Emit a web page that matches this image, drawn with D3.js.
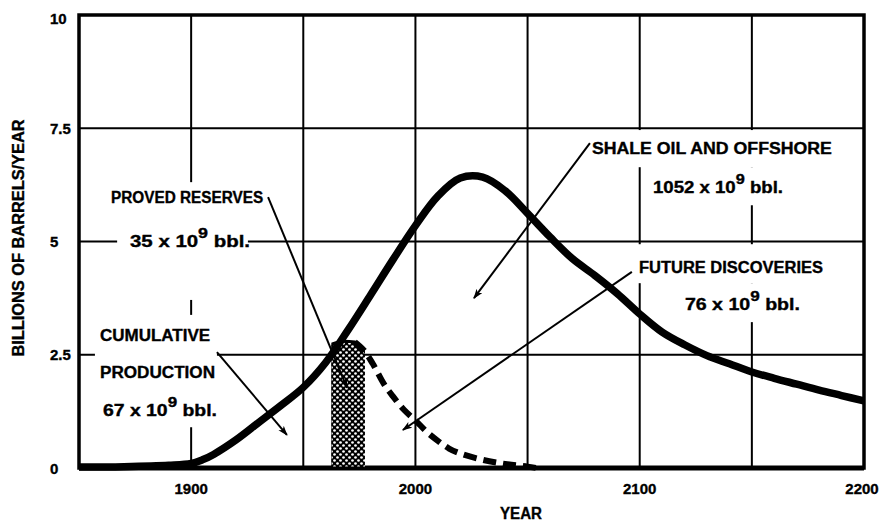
<!DOCTYPE html>
<html><head><meta charset="utf-8">
<script src="https://cdn.jsdelivr.net/npm/d3@7"></script>
<style>body{margin:0;background:#fff}svg{display:block}text{font-family:"Liberation Sans",Arial,sans-serif;font-weight:700;fill:#000;stroke:#000;stroke-width:0.35px}</style>
</head><body><svg id="c" width="883" height="522"></svg>
<script>
// ---- data ----
const years = [1850,1870,1890,1900,1905,1910,1920,1930,1940,1950,1960,1970,1980,1990,2000,2010,2020,2030,2040,2050,2060,2070,2080,2090,2100,2110,2120,2130,2140,2150,2160,2170,2180,2190,2200];
const totalProduction = [0.02,0.03,0.06,0.1,0.18,0.3,0.62,1.0,1.38,1.78,2.33,3.05,3.82,4.6,5.35,6.0,6.4,6.42,6.12,5.62,5.1,4.62,4.25,3.85,3.4,3.0,2.72,2.48,2.3,2.12,1.98,1.85,1.72,1.6,1.48];
const reserveYears = [1962,1968,1973,1977,1981,1986,1990,1995,2000,2005,2010,2015,2020,2030,2040,2050,2054];
const reserveProduction = [2.72,2.8,2.78,2.6,2.3,1.85,1.58,1.28,1.05,0.8,0.6,0.43,0.32,0.18,0.09,0.03,0.0];
const provedSpan = [1962.5, 1977.5];
const xTickYears = [1900,2000,2100,2200];
const xGridYears = [1900,1950,2000,2050,2100,2150];
const yTicks = [0,2.5,5,7.5,10];
const yTickLabels = ["0","2.5","5","7.5","10"];
const yGrid = [2.5,5,7.5];

// annotation boxes (data coords) that erase gridlines behind labels
const eraseBoxes = [
  [1867,1925.3,6.31,3.71],[1857.1,1911.5,3.38,0.9],
  [2075.6,2189.3,7.46,6.64],[2102.3,2167,6.64,5.8],
  [2095.6,2187,4.94,4.08],[2115.7,2173.7,4.08,3.22]
];
const arrows = [
  [1934.3,5.98,1969.5,1.77],
  [1911.5,2.56,1942.7,0.73],
  [2096.5,4.33,1994.4,0.84],
  [2077.8,7.17,2026.1,3.75]
];
const labels = [
  {t:"PROVED RESERVES", x:1898.2, y:5.98, len:152},
  {t:"35 x 10", sup:"9", after:" bbl.", x:1899.5, y:5.01, len:120},
  {t:"CUMULATIVE", x:1883.9, y:2.94, len:110},
  {t:"PRODUCTION", x:1885, y:2.12, len:115},
  {t:"67 x 10", sup:"9", after:" bbl.", x:1886.1, y:1.28, len:114},
  {t:"SHALE OIL AND OFFSHORE", x:2132.2, y:7.06, len:240},
  {t:"1052 x 10", sup:"9", after:" bbl.", x:2134.9, y:6.2, len:130},
  {t:"FUTURE DISCOVERIES", x:2140.7, y:4.44, len:184},
  {t:"76 x 10", sup:"9", after:" bbl.", x:2145.8, y:3.62, len:115}
];

// ---- chart ----
const svg = d3.select("#c");
const x = d3.scaleLinear().domain([1850,2200]).range([79,864]);
const y = d3.scaleLinear().domain([0,10]).range([468,15]);

const defs = svg.append("defs");
const pat = defs.append("pattern").attr("id","dots").attr("patternUnits","userSpaceOnUse").attr("width",6).attr("height",6);
pat.append("rect").attr("width",6).attr("height",6).attr("fill","#000");
pat.append("circle").attr("cx",1.5).attr("cy",1.5).attr("r",1.35).attr("fill","#fff");
pat.append("circle").attr("cx",4.5).attr("cy",4.5).attr("r",1.35).attr("fill","#fff");
defs.append("marker").attr("id","ah").attr("viewBox","0 0 10 8").attr("refX",9).attr("refY",4)
  .attr("markerWidth",10).attr("markerHeight",8).attr("markerUnits","userSpaceOnUse").attr("orient","auto")
  .append("path").attr("d","M0,0.5 L10,4 L0,7.5 L2.5,4 z").attr("fill","#000");
defs.append("clipPath").attr("id","proved").append("rect")
  .attr("x",x(provedSpan[0])).attr("y",0).attr("width",x(provedSpan[1])-x(provedSpan[0])).attr("height",522);

// grid
svg.append("g").selectAll("line").data(xGridYears).join("line")
  .attr("x1",d=>x(d)).attr("x2",d=>x(d)).attr("y1",y(10)).attr("y2",y(0))
  .attr("stroke","#000").attr("stroke-width",2);
svg.append("g").selectAll("line").data(yGrid).join("line")
  .attr("x1",x(1850)).attr("x2",x(2200)).attr("y1",d=>y(d)).attr("y2",d=>y(d))
  .attr("stroke","#000").attr("stroke-width",2);
// erase boxes
svg.append("g").selectAll("rect").data(eraseBoxes).join("rect")
  .attr("x",d=>x(d[0])).attr("width",d=>x(d[1])-x(d[0]))
  .attr("y",d=>y(d[2])).attr("height",d=>y(d[3])-y(d[2])).attr("fill","#fff");

// frame
svg.append("rect").attr("x",x(1850)).attr("y",y(10)).attr("width",x(2200)-x(1850)).attr("height",y(0)-y(10))
  .attr("fill","none").attr("stroke","#000").attr("stroke-width",3.5);
svg.append("line").attr("x1",x(1850)).attr("x2",x(2200)).attr("y1",y(0)).attr("y2",y(0)).attr("stroke","#000").attr("stroke-width",5);

// proved reserves bar
const rp = reserveYears.map((d,i)=>[d,reserveProduction[i]]);
svg.append("path").datum(rp).attr("clip-path","url(#proved)")
  .attr("d",d3.area().x(d=>x(d[0])).y0(y(0)).y1(d=>y(d[1])).curve(d3.curveMonotoneX))
  .attr("fill","url(#dots)").attr("stroke","#000").attr("stroke-width",3);

// dashed curve
svg.append("path").datum(rp.filter(d=>d[0]>=1973))
  .attr("d",d3.line().x(d=>x(d[0])).y(d=>y(d[1])).curve(d3.curveCatmullRom.alpha(0.5)))
  .attr("fill","none").attr("stroke","#000").attr("stroke-width",6).attr("stroke-dasharray","13,7");

// main curve
const tp = years.map((d,i)=>[d,totalProduction[i]]);
svg.append("path").datum(tp)
  .attr("d",d3.line().x(d=>x(d[0])).y(d=>y(d[1])).curve(d3.curveCatmullRom.alpha(0.5)))
  .attr("fill","none").attr("stroke","#000").attr("stroke-width",7.5).attr("stroke-linejoin","round");

// arrows
svg.append("g").selectAll("line").data(arrows).join("line")
  .attr("x1",d=>x(d[0])).attr("y1",d=>y(d[1])).attr("x2",d=>x(d[2])).attr("y2",d=>y(d[3]))
  .attr("stroke","#000").attr("stroke-width",2).attr("marker-end","url(#ah)");

// labels
labels.forEach(l=>{
  const t = svg.append("text").attr("x",x(l.x)).attr("y",y(l.y)+6).attr("text-anchor","middle")
    .attr("font-size",16).attr("textLength",l.len).attr("lengthAdjust","spacingAndGlyphs");
  t.append("tspan").text(l.t);
  if(l.sup){
    t.append("tspan").attr("dy",-9).attr("font-size",14).text(l.sup);
    t.append("tspan").attr("dy",9).text(l.after);
  }
});

// ticks
svg.append("g").selectAll("text").data(yTicks).join("text")
  .attr("x",50).attr("y",d=>y(d)+(d===10?9:5.5)).attr("font-size",15).text((d,i)=>yTickLabels[i]);
svg.append("g").selectAll("text").data(xTickYears).join("text")
  .attr("x",d=>x(d)-(d===2200?2:0)).attr("y",494).attr("text-anchor","middle").attr("font-size",15).text(d=>d);

// axis titles
svg.append("text").attr("x",521).attr("y",519).attr("text-anchor","middle").attr("font-size",16)
  .attr("textLength",42).attr("lengthAdjust","spacingAndGlyphs").text("YEAR");
svg.append("text").attr("transform","translate(24,238) rotate(-90)").attr("text-anchor","middle").attr("font-size",16)
  .attr("textLength",237).attr("lengthAdjust","spacingAndGlyphs").text("BILLIONS OF BARRELS/YEAR");
</script></body></html>
